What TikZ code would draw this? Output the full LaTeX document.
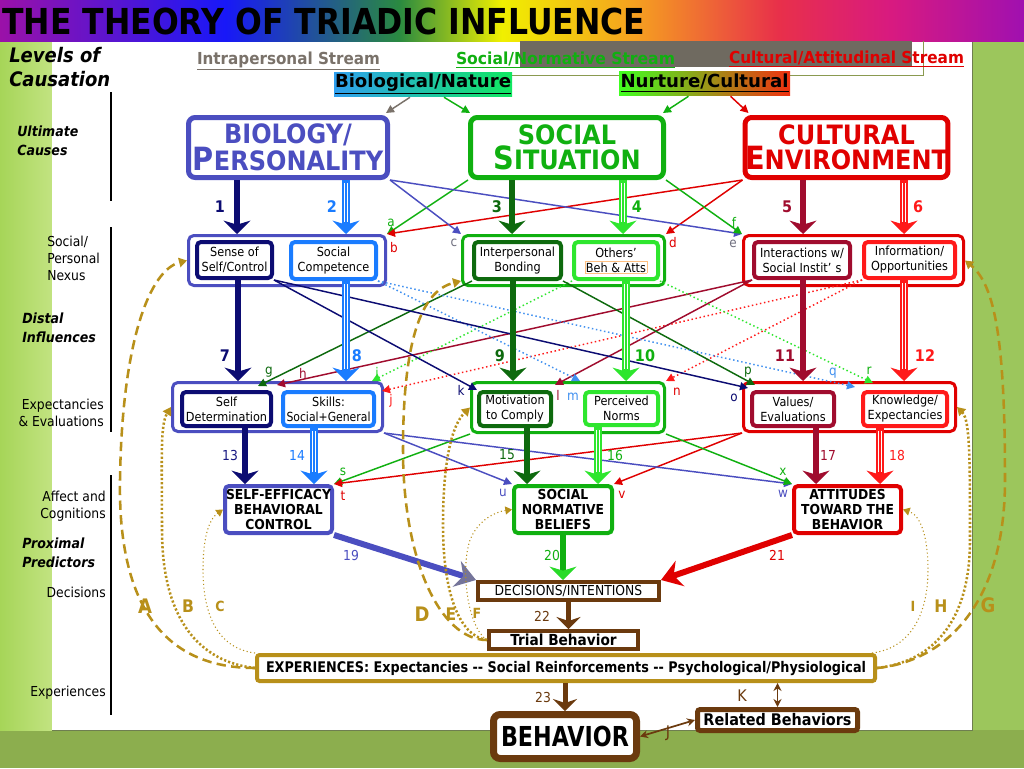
\documentclass[tikz,border=0pt]{standalone}
\usepackage{fontspec}
\setmainfont[FakeStretch=0.9]{DejaVu Sans}
\usetikzlibrary{arrows.meta,calc}
\newcommand\hf[2]{\resizebox{\dimexpr #1pt*3/4\relax}{\height}{#2}}
\newcommand\fsz[2]{\fontsize{#1}{#2}\selectfont}
\newcommand\capL[1]{{\fsz{24}{19}#1}}
\newcommand\triarr[3]{%
  \draw[#1, line width=6pt, -{Stealth[width=20pt,length=10pt,inset=3pt]}] #2 -- #3;
  \draw[white, line width=3.6pt, shorten >=9pt, shorten <=2.5pt] #2 -- #3;
  \draw[#1, line width=1.2pt, shorten >=8pt] #2 -- #3;}
\definecolor{bioc}{HTML}{4B4EC0}
\definecolor{navyc}{HTML}{0C0C72}
\definecolor{bbluec}{HTML}{1A7CFF}
\definecolor{sgreen}{HTML}{10B010}
\definecolor{dgreen}{HTML}{0E6A0E}
\definecolor{lgreen}{HTML}{2EE62E}
\definecolor{cred}{HTML}{E00000}
\definecolor{dred}{HTML}{A00C2E}
\definecolor{bred}{HTML}{FF1A1A}
\definecolor{brn}{HTML}{6B3A0E}
\definecolor{goldc}{HTML}{B8901A}
\definecolor{grayl}{HTML}{707080}
\definecolor{lblue}{HTML}{4090F0}
\definecolor{streamgray}{HTML}{7A726A}
\definecolor{hdrgray}{HTML}{6F6A60}
\definecolor{olivec}{HTML}{8A9A50}
\definecolor{bgdark}{HTML}{8CAE4E}
\definecolor{bgright}{HTML}{9CC65C}
\definecolor{stripL}{HTML}{A6D558}
\definecolor{stripR}{HTML}{C2E381}
\definecolor{panelline}{HTML}{6E7E50}
\definecolor{bnL}{HTML}{30A0F0}
\definecolor{bnR}{HTML}{10E860}
\definecolor{nuL}{HTML}{40FF20}
\definecolor{nuM}{HTML}{C08A10}
\definecolor{nuR}{HTML}{F03010}
\definecolor{tipgray}{HTML}{75759A}
\definecolor{tp1}{HTML}{9B11A8}
\definecolor{tb}{HTML}{1818F8}
\definecolor{tg}{HTML}{2A8A40}
\definecolor{ty}{HTML}{F0F000}
\definecolor{to}{HTML}{F5A020}
\definecolor{tr}{HTML}{E8304A}
\definecolor{tpk}{HTML}{D81A80}
\definecolor{tp2}{HTML}{A010B0}
\pgfdeclarehorizontalshading{rainbow}{100bp}{color(0bp)=(tp1); color(25bp)=(tp1); color(36bp)=(tb); color(44.5bp)=(tg); color(49.5bp)=(ty); color(56bp)=(to); color(63bp)=(tr); color(68.5bp)=(tpk); color(75bp)=(tp2); color(100bp)=(tp2)}
\begin{document}
\begin{tikzpicture}[x=0.75pt,y=-0.75pt,
 wh/.style 2 args={minimum width=#1*0.75pt, minimum height=#2*0.75pt},
 bigbox/.style={draw=#1, line width=3.75pt, rounded corners=5pt, fill=white, text=#1, align=center, inner sep=0pt, font=\bfseries\fsz{20}{19}},
 outbox/.style={draw=#1, line width=2.25pt, rounded corners=4pt, fill=white, inner sep=0pt},
 inbox/.style={draw=#1, line width=3pt, rounded corners=3pt, fill=white, align=center, inner sep=0pt, font=\fsz{9.4}{11.25}},
 proxbox/.style={draw=#1, line width=3pt, rounded corners=3pt, fill=white, align=center, inner sep=0pt, font=\bfseries\fsz{10.3}{10.9}},
 brnbox/.style={draw=brn, line width=3pt, fill=white, inner sep=0pt, align=center},
 thkarr/.style={draw=#1, line width=4.5pt, -{Stealth[width=20pt,length=10pt,inset=3pt]}},
 crossarr/.style={draw=#1, line width=1.1pt, -{Triangle[width=6pt,length=6pt]}},
 dotarr/.style={draw=#1, line width=1.1pt, dotted, -{Triangle[width=6pt,length=6pt]}},
 letlab/.style={text=#1, font=\fsz{10}{12}, inner sep=0pt},
 numlab/.style={text=#1, font=\bfseries\fsz{12}{14}, inner sep=0pt},
 nlab/.style={text=#1, font=\fsz{10.3}{12}, inner sep=0pt},
 sidelab/.style={font=\fsz{10.3}{12.75}, inner sep=0pt},
 sidebi/.style={font=\bfseries\itshape\fsz{10.5}{14.25}, inner sep=0pt, align=left, anchor=west},
 fbA/.style={draw=goldc, line width=1.9pt, dash pattern=on 7pt off 4pt, -{Triangle[width=7pt,length=6pt]}},
 fbB/.style={draw=goldc, line width=1.9pt, dash pattern=on 1.6pt off 1.6pt, -{Triangle[width=7pt,length=6pt]}},
 fbC/.style={draw=goldc, line width=0.8pt, dotted, -{Triangle[width=6pt,length=5pt]}},
 gl/.style={text=goldc, font=\bfseries\fsz{#1}{#1}, inner sep=0pt},
]
\useasboundingbox (0,0) rectangle (1024,768);
% background
\fill[bgdark] (0,0) rectangle (1024,768);
\fill[bgright] (972,41) rectangle (1024,730);
\shade[left color=stripL, right color=stripR] (0,40) rectangle (52,730);
\fill[white] (52,41) rectangle (972,729.5);
\draw[panelline, line width=0.6pt] (972,41) -- (972,730) -- (52,730);
\fill[shading=rainbow] (0,0) rectangle (1024,41);
\fill[hdrgray] (520,41) rectangle (912,67);
\draw[olivec, line width=0.6pt] (512,75) -- (923,75) -- (923,41);
% title and headers
\node[anchor=west, inner sep=0pt, font=\bfseries\fsz{26.8}{28}] (title) at (2,21) {\hf{643}{THE THEORY OF TRIADIC INFLUENCE}};
\node[anchor=base, text=streamgray, font=\bfseries\fsz{12.4}{14}, inner sep=0pt] (intra) at (288.5,64) {\hf{183}{\underline{Intrapersonal Stream}}};
\node[anchor=base, text=sgreen, font=\bfseries\fsz{12.4}{14}, inner sep=0pt] (socn) at (565.5,64) {\hf{219}{\underline{Social/Normative Stream}}};
\node[anchor=base, text=cred, font=\bfseries\fsz{12.4}{14}, inner sep=0pt] (cultn) at (846.5,63) {\hf{235}{\underline{Cultural/Attitudinal Stream}}};
\node[left color=bnL, right color=bnR, wh={178}{24}, inner sep=0pt, font=\bfseries\fsz{13.5}{15}] (bionat) at (423,84) {\hf{176}{\underline{Biological/Nature}}};
\node[left color=nuL, middle color=nuM, right color=nuR, wh={171}{24}, inner sep=0pt, font=\bfseries\fsz{13.5}{15}] (nurt) at (704.5,83) {\hf{168}{\underline{Nurture/Cultural}}};
% side labels
\node[sidebi, font=\bfseries\itshape\fsz{15}{18}] (lev) at (9,67.5) {Levels of\\Causation};
\node[sidebi] (ult) at (17,140.5) {Ultimate\\Causes};
\node[sidelab, anchor=west, align=left] (nex) at (47,258) {Social/\\Personal\\Nexus};
\node[sidebi] (dist) at (22,327.5) {Distal\\Influences};
\node[sidelab, anchor=east, align=right] (expev) at (104,412.5) {Expectancies\\\& Evaluations};
\node[sidelab, anchor=east, align=right] (affc) at (106,506.5) {Affect and\\Cognitions};
\node[sidebi] (prox) at (22,552.5) {Proximal\\Predictors};
\node[sidelab, anchor=east] (decl) at (106,592) {Decisions};
\node[sidelab, anchor=east] (expl) at (106,693) {Experiences};
\draw[line width=2pt] (111,92) -- (111,201);
\draw[line width=2pt] (111,227) -- (111,432);
\draw[line width=2pt] (111,475) -- (111,715);
% big boxes
\node[bigbox=bioc, wh={199}{60}] (bio) at (288,147.5) {BIOLOGY/\\\capL{P}ERSONALITY};
\node[bigbox=sgreen, wh={193}{60}] (social) at (567,147.5) {SOCIAL\\\capL{S}ITUATION};
\node[bigbox=cred, wh={192}{60}] (cult) at (846.5,147.5) {CULTURAL\\\capL{E}NVIRONMENT};
% row 2
\node[outbox=bioc, wh={197}{50}] (blue2) at (287,260.5) {};
\node[inbox=navyc, wh={75}{36}] (sense) at (234.5,260) {Sense of\\Self/Control};
\node[inbox=bbluec, wh={85}{37}] (socomp) at (333.5,260.5) {Social\\Competence};
\node[outbox=sgreen, wh={202}{50}] (green2) at (563.5,260.5) {};
\node[inbox=dgreen, wh={87}{37}] (bond) at (517.5,260.5) {Interpersonal\\Bonding};
\node[inbox=lgreen, wh={84}{37}] (others) at (616,260.5) {Others’\\{\fboxsep=0.6pt\fboxrule=0.4pt\fcolorbox{orange!50}{white}{Beh \& Atts}}};
\node[outbox=cred, wh={220}{50}] (red2) at (853.5,260.5) {};
\node[inbox=dred, wh={96}{36}] (inter) at (802,260) {Interactions w/\\Social Instit’\,\,s};
\node[inbox=bred, wh={91}{36}] (info) at (909.5,260) {Information/\\Opportunities};
% row 3
\node[outbox=bioc, wh={210}{49}] (blue3) at (277.5,407) {};
\node[inbox=navyc, wh={89}{34}] (selfdet) at (226.5,409) {Self\\Determination};
\node[inbox=bbluec, wh={91}{34}] (skills) at (328.5,409) {Skills:\\\hf{84}{Social+General}};
\node[outbox=sgreen, wh={193}{50}] (green3) at (568,407.5) {};
\node[inbox=dgreen, wh={72}{34}] (motiv) at (515,409) {Motivation\\to Comply};
\node[inbox=lgreen, wh={73}{33}] (pnorms) at (621.5,408.5) {Perceived\\Norms};
\node[outbox=cred, wh={212}{49}] (red3) at (849.5,407) {};
\node[inbox=dred, wh={82}{34}] (values) at (793,409) {Values/\\Evaluations};
\node[inbox=bred, wh={84}{34}] (knowl) at (905,409) {Knowledge/\\Expectancies};
% row 4
\node[proxbox=bioc, wh={107}{47}] (selfeff) at (278.5,509.5) {SELF-EFFICACY\\BEHAVIORAL\\CONTROL};
\node[proxbox=sgreen, wh={98}{47}] (snb) at (563,509.5) {SOCIAL\\NORMATIVE\\BELIEFS};
\node[proxbox=cred, wh={107}{47}] (att) at (847.5,509.5) {ATTITUDES\\TOWARD THE\\BEHAVIOR};
% row 5
\node[brnbox, wh={181}{18}, font=\fsz{10.3}{12}] (dec) at (568.5,591) {DECISIONS/INTENTIONS};
\node[brnbox, wh={149}{18}, font=\bfseries\fsz{11.4}{13}] (trial) at (563.5,640) {Trial Behavior};
\node[draw=goldc, line width=3pt, rounded corners=2pt, fill=white, wh={618}{26}, inner sep=0pt, font=\bfseries\fsz{11}{13}] (exp) at (566,668) {\hf{600}{EXPERIENCES: Expectancies -{}- Social Reinforcements -{}- Psychological/Physiological}};
\node[brnbox, line width=5.25pt, rounded corners=5pt, wh={143}{44}, font=\bfseries\fsz{20.6}{22}] (beh) at (565,736.5) {\hf{128}{BEHAVIOR}};
\node[brnbox, line width=3.75pt, rounded corners=2pt, wh={160}{21}, font=\bfseries\fsz{12}{14}] (rel) at (777.5,720) {Related Behaviors};
% header arrows
\draw[crossarr=streamgray] ($(bionat.south)+(-13,1)$) -- ($(bio.north east)+(-4,-2)$);
\draw[crossarr=sgreen] ($(bionat.south)+(21,1)$) -- ($(social.north west)+(2,-2)$);
\draw[crossarr=sgreen] ($(nurt.south)+(-16,1)$) -- ($(social.north east)+(-3,-2)$);
\draw[crossarr=cred] ($(nurt.south)+(26,1)$) -- ($(cult.north west)+(6,-2)$);
% column coordinates
\coordinate (c1) at (237,0); \coordinate (c2) at (346,0); \coordinate (c3) at (512,0);
\coordinate (c4) at (623,0); \coordinate (c5) at (803,0); \coordinate (c6) at (904,0);
\coordinate (c7) at (238,0); \coordinate (c8) at (346,0); \coordinate (c9) at (513,0);
\coordinate (c10) at (626,0); \coordinate (c11) at (803,0); \coordinate (c12) at (904,0);
\coordinate (c13) at (245,0); \coordinate (c14) at (314,0); \coordinate (c15) at (527,0);
\coordinate (c16) at (598,0); \coordinate (c17) at (816,0); \coordinate (c18) at (880,0);
% cross lines row1 -> row2
\draw[crossarr=sgreen] (social.south west) -- (blue2.north east);
\draw[crossarr=cred] (cult.south west) -- (blue2.north east);
\draw[crossarr=bioc] (bio.south east) -- (green2.north west);
\draw[crossarr=cred] (cult.south west) -- (green2.north east);
\draw[crossarr=bioc] (bio.south east) -- (red2.north west);
\draw[crossarr=sgreen] (social.south east) -- (red2.north west);
% cross lines row2 -> row3
\draw[crossarr=dgreen] (bond.south west) -- ($(selfdet.north)+(31.5,-4)$);
\draw[crossarr=dred] (inter.south west) -- ($(selfdet.north east)+(4,-5)$);
\draw[dotarr=lgreen] (others.south west) -- ($(skills.north east)+(-4,-9)$);
\draw[dotarr=bred] (info.south west) -- ($(blue3.north east)+(-2,10)$);
\draw[crossarr=navyc] (sense.south east) -- (motiv.north west);
\draw[crossarr=dred] (inter.south west) -- ($(motiv.north east)+(2,-5)$);
\draw[dotarr=lblue] (socomp.south east) -- ($(pnorms.north west)+(-3,-9)$);
\draw[dotarr=bred] (info.south west) -- (green3.north east);
\draw[crossarr=navyc] (sense.south east) -- ($(values.north west)+(-2,-2)$);
\draw[crossarr=dgreen] (bond.south east) -- ($(values.north west)+(5,-5)$);
\draw[dotarr=lblue] (socomp.south east) -- ($(knowl.north west)+(-6,-3)$);
\draw[dotarr=lgreen] (others.south east) -- ($(knowl.north west)+(12,-7)$);
% cross lines row3 -> row4
\draw[crossarr=sgreen] (green3.south west) -- (selfeff.north east);
\draw[crossarr=cred] (red3.south west) -- (selfeff.north east);
\draw[crossarr=bioc] (blue3.south east) -- (snb.north west);
\draw[crossarr=cred] (red3.south west) -- (snb.north east);
\draw[crossarr=bioc] (blue3.south east) -- (att.north west);
\draw[crossarr=sgreen] (green3.south east) -- (att.north west);
% main vertical arrows
\draw[thkarr=navyc] (bio.south -| c1) -- (blue2.north -| c1);
\triarr{bbluec}{(bio.south -| c2)}{(blue2.north -| c2)}
\draw[thkarr=dgreen] (social.south -| c3) -- (green2.north -| c3);
\triarr{lgreen}{(social.south -| c4)}{(green2.north -| c4)}
\draw[thkarr=dred] (cult.south -| c5) -- (red2.north -| c5);
\triarr{bred}{(cult.south -| c6)}{(red2.north -| c6)}
\draw[thkarr=navyc] (sense.south -| c7) -- (blue3.north -| c7);
\triarr{bbluec}{(socomp.south -| c8)}{(blue3.north -| c8)}
\draw[thkarr=dgreen] (bond.south -| c9) -- (green3.north -| c9);
\triarr{lgreen}{(others.south -| c10)}{(green3.north -| c10)}
\draw[thkarr=dred] (inter.south -| c11) -- (red3.north -| c11);
\triarr{bred}{(info.south -| c12)}{(red3.north -| c12)}
\draw[thkarr=navyc] (selfdet.south -| c13) -- (selfeff.north -| c13);
\triarr{bbluec}{(skills.south -| c14)}{(selfeff.north -| c14)}
\draw[thkarr=dgreen] (motiv.south -| c15) -- (snb.north -| c15);
\triarr{lgreen}{(pnorms.south -| c16)}{(snb.north -| c16)}
\draw[thkarr=dred] (values.south -| c17) -- (att.north -| c17);
\triarr{bred}{(knowl.south -| c18)}{(att.north -| c18)}
\draw[draw=bioc, line width=4.5pt, -{Stealth[width=20pt,length=15pt,inset=5pt,color=tipgray]}] (selfeff.south east) -- (dec.north west);
\draw[draw=sgreen, line width=4pt, -{Stealth[width=20pt,length=10pt,inset=3pt,color=lgreen!80!sgreen]}] (snb.south) -- (snb.south |- dec.north);
\draw[draw=cred, line width=4.5pt, -{Stealth[width=20pt,length=15pt,inset=5pt]}] (att.south west) -- (dec.north east);
\draw[draw=brn, line width=3.75pt, -{Stealth[width=18pt,length=9pt,inset=3pt]}] (dec.south) -- (dec.south |- trial.north);
\draw[draw=brn, line width=3.75pt, -{Stealth[width=18pt,length=9pt,inset=3pt]}] (exp.south -| beh.north) -- (beh.north);
\draw[draw=brn, line width=1.3pt, {Stealth[width=6pt,length=6pt]}-{Stealth[width=6pt,length=6pt]}] (beh.east) -- (rel.west);
\draw[draw=brn, line width=1.3pt, {Stealth[width=6pt,length=6pt]}-{Stealth[width=6pt,length=6pt]}] (rel.north |- exp.south) -- (rel.north);
% feedback curves
\draw[fbA] (exp.west) .. controls (160,668) and (118,600) .. (120,480) .. controls (122,340) and (150,270) .. (blue2.west);
\draw[fbB] (exp.west) .. controls (200,662) and (162,620) .. (162,530) .. controls (162,460) and (160,425) .. (blue3.west);
\draw[fbC] (exp.north west) .. controls (215,648) and (203,610) .. (203,570) .. controls (203,540) and (208,520) .. (selfeff.west);
\draw[fbA] (trial.west) .. controls (440,640) and (403,560) .. (403,450) .. controls (403,330) and (425,290) .. ($(green2.south west)+(0,-6)$);
\draw[fbB] (trial.west) .. controls (458,636) and (443,590) .. (443,525) .. controls (443,460) and (452,425) .. (green3.west);
\draw[fbC] (trial.west) .. controls (468,628) and (460,570) .. (470,540) .. controls (478,520) and (495,512) .. (snb.west);
\draw[fbA] (exp.east) .. controls (940,662) and (1005,610) .. (1005,480) .. controls (1005,340) and (995,285) .. (red2.east);
\draw[fbB] (exp.east) .. controls (930,662) and (970,625) .. (970,540) .. controls (970,460) and (970,420) .. (red3.east);
\draw[fbC] ($(exp.north east)+(-5,0)$) .. controls (912,648) and (928,612) .. (928,570) .. controls (928,535) and (920,515) .. (att.east);
% number labels
\node[numlab=navyc] (n1) at (220,207) {1};
\node[numlab=bbluec] (n2) at (332,207) {2};
\node[numlab=dgreen] (n3) at (497,207) {3};
\node[numlab=sgreen] (n4) at (637,207) {4};
\node[numlab=dred] (n5) at (787,207) {5};
\node[numlab=bred] (n6) at (918,207) {6};
\node[numlab=navyc] (n7) at (225,356) {7};
\node[numlab=bbluec] (n8) at (357,356) {8};
\node[numlab=dgreen] (n9) at (500,356) {9};
\node[numlab=sgreen] (n10) at (645,356) {10};
\node[numlab=dred] (n11) at (785,356) {11};
\node[numlab=bred] (n12) at (925,356) {12};
\node[nlab=navyc!80!bioc] (n13) at (230,455) {13};
\node[nlab=bbluec] (n14) at (297,455) {14};
\node[nlab=dgreen] (n15) at (507,455) {15};
\node[nlab=sgreen] (n16) at (615,455) {16};
\node[nlab=dred] (n17) at (828,455) {17};
\node[nlab=bred] (n18) at (897,455) {18};
\node[nlab=bioc] (n19) at (351,555) {19};
\node[nlab=sgreen] (n20) at (552,555) {20};
\node[nlab=cred] (n21) at (777,555) {21};
\node[nlab=brn] (n22) at (542,616) {22};
\node[nlab=brn] (n23) at (543,697) {23};
\node[text=brn, font=\fsz{12}{14}, inner sep=0pt] (lJ) at (668,733) {J};
\node[text=brn, font=\fsz{12}{14}, inner sep=0pt] (lK) at (742,696) {K};
% letter labels
\node[letlab=sgreen] (la) at (391,223) {a};
\node[letlab=cred] (lb) at (394,248) {b};
\node[letlab=grayl] (lc) at (454,243) {c};
\node[letlab=cred] (ld) at (673,243) {d};
\node[letlab=grayl] (le) at (733,244) {e};
\node[letlab=sgreen] (lf) at (734,222) {f};
\node[letlab=dgreen] (lg) at (269,372) {g};
\node[letlab=dred] (lh) at (303,373) {h};
\node[letlab=lgreen!80!sgreen] (li) at (377,372) {i};
\node[letlab=bred] (lj) at (391,401) {j};
\node[letlab=navyc] (lk) at (461,390) {k};
\node[letlab=dred] (ll) at (558,395) {l};
\node[letlab=lblue] (lm) at (573,397) {m};
\node[letlab=cred] (ln) at (677,392) {n};
\node[letlab=navyc] (lo) at (734,398) {o};
\node[letlab=dgreen] (lp) at (748,372) {p};
\node[letlab=lblue] (lq) at (833,373) {q};
\node[letlab=sgreen] (lr) at (869,371) {r};
\node[letlab=sgreen] (ls) at (343,472) {s};
\node[letlab=cred] (lt) at (343,496) {t};
\node[letlab=bioc] (lu) at (503,493) {u};
\node[letlab=cred] (lv) at (622,495) {v};
\node[letlab=bioc] (lw) at (783,494) {w};
\node[letlab=sgreen] (lx) at (783,472) {x};
% feedback labels
\node[gl=15] (gA) at (145,606) {A};
\node[gl=13] (gB) at (188,606) {B};
\node[gl=10.5] (gC) at (220,606) {C};
\node[gl=15] (gD) at (422,614) {D};
\node[gl=13] (gE) at (451,614) {E};
\node[gl=10.5] (gF) at (477,613) {F};
\node[gl=15] (gG) at (988,605) {G};
\node[gl=13] (gH) at (941,606) {H};
\node[gl=10.5] (gI) at (913,606) {I};
\end{tikzpicture}
\end{document}
